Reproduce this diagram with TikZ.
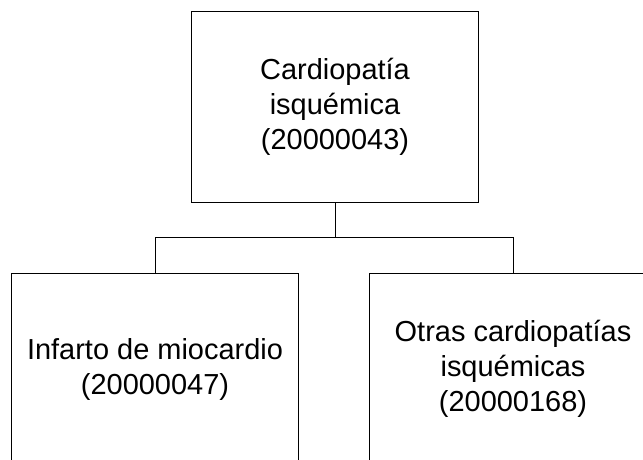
\documentclass[tikz,border=0pt]{standalone}
\usepackage{fontspec}
\setmainfont{Liberation Sans}
\usepackage{tikz}
\usetikzlibrary{positioning, calc}

\begin{document}
\begin{tikzpicture}[
    category/.style={draw, line width=0.7pt, rectangle, minimum width=7.17cm, minimum height=4.76cm, align=center, inner sep=2pt, font=\fontsize{20.6}{24.9}\selectfont},
    link/.style={line width=0.7pt}
]
    \clip (0,0) rectangle (16.075,11.5);
    % Parent node
    \node[category] (cardio) at (8.375,8.829) {Cardiopatía\\isquémica\\(20000043)};
    
    % Child nodes
    \node[category] (infarto) at (3.875,2.271) {Infarto de miocardio\\(20000047)};
    \node[category] (otras) at (12.825,2.271) {Otras cardiopatías\\isquémicas\\(20000168)};
    
    % Connectors
    \coordinate (joint) at (8.375,5.55);
    \draw[link] (cardio) -- (joint);
    \draw[link] (joint) -| (infarto);
    \draw[link] (joint) -| (otras);
\end{tikzpicture}
\end{document}
